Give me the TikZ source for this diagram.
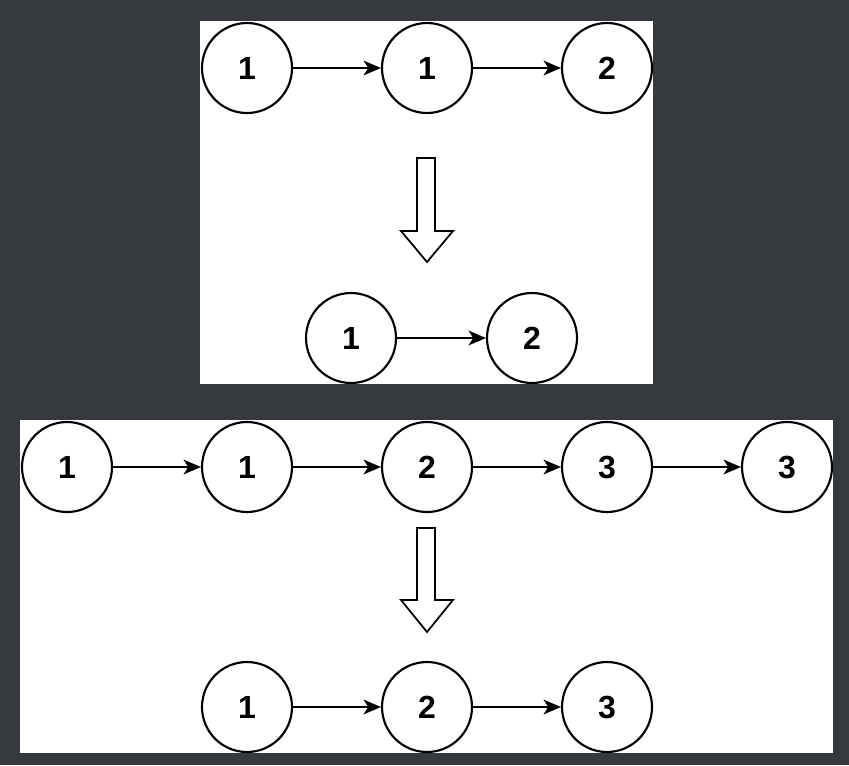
\documentclass[tikz,border=0pt]{standalone}
\usepackage{fontspec}
\setmainfont{Liberation Sans}
\usetikzlibrary{arrows.meta}
\definecolor{bgdark}{HTML}{363A3E}
\tikzset{
  lnode/.style={circle,draw=black,line width=1.6pt,fill=white,minimum size=67.5pt,inner sep=0pt,font=\fontsize{24}{26}\selectfont\bfseries},
  link/.style={line width=1.6pt,-{Stealth[length=13pt,width=11pt,inset=3.5pt]}},
  panel/.style={fill=white,draw=none},
  bigarrow/.style={draw=black,line width=1.3pt,fill=white,line join=miter}
}
\begin{document}
\begin{tikzpicture}[x=0.75pt,y=-0.75pt]
\fill[bgdark] (0,0) rectangle (849,765);
\useasboundingbox (0,0) rectangle (849,765);
% panels
\fill[panel] (200,21) rectangle (653,384);
\fill[panel] (20,420) rectangle (833,753);
% panel 1
\node[lnode] (a1) at (247,68) {1};
\node[lnode] (a2) at (427,68) {1};
\node[lnode] (a3) at (607,68) {2};
\draw[link] (a1) -- (a2);
\draw[link] (a2) -- (a3);
\draw[bigarrow] (417,158) -- (435,158) -- (435,231) -- (453,231) -- (427,262) -- (401,231) -- (417,231) -- cycle;
\node[lnode] (b1) at (351,338) {1};
\node[lnode] (b2) at (532,338) {2};
\draw[link] (b1) -- (b2);
% panel 2
\begin{scope}
\clip (20,420) rectangle (833,753);
\node[lnode] (c1) at (67,467) {1};
\node[lnode] (c2) at (247,467) {1};
\node[lnode] (c3) at (427,467) {2};
\node[lnode] (c4) at (607,467) {3};
\node[lnode] (c5) at (787,467) {3};
\draw[link] (c1) -- (c2);
\draw[link] (c2) -- (c3);
\draw[link] (c3) -- (c4);
\draw[link] (c4) -- (c5);
\draw[bigarrow] (417,528) -- (435,528) -- (435,600) -- (453,600) -- (427,632) -- (401,600) -- (417,600) -- cycle;
\node[lnode] (d1) at (247,707) {1};
\node[lnode] (d2) at (427,707) {2};
\node[lnode] (d3) at (607,707) {3};
\draw[link] (d1) -- (d2);
\draw[link] (d2) -- (d3);
\end{scope}
\end{tikzpicture}
\end{document}
